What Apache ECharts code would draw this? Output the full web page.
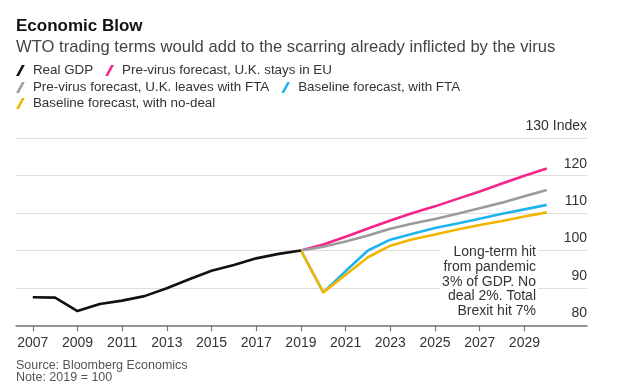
<!DOCTYPE html>
<html>
<head>
<meta charset="utf-8">
<script src="https://cdn.jsdelivr.net/npm/echarts@6/dist/echarts.min.js"></script>
<style>
html,body{margin:0;padding:0;background:#fff;}
#c{width:620px;height:389px;}
</style>
</head>
<body>
<div id="c"></div>
<script>
const gdpYears = [2007,2008,2009,2010,2011,2012,2013,2014,2015,2016,2017,2018,2019];
const realGDP = [87.5,87.4,83.8,85.7,86.6,87.8,89.9,92.3,94.6,96.1,97.9,99.1,100];
const forecastYears = [2019,2020,2021,2022,2023,2024,2025,2026,2027,2028,2029,2030];
const preVirusEU = [100,101.6,103.7,105.9,108.0,110.0,111.8,113.8,115.8,117.9,120.0,121.9];
const preVirusFTA = [100,101.0,102.4,104.0,105.8,107.2,108.4,109.8,111.3,112.8,114.5,116.2];
const baselineFTA = [100,88.8,94.5,100.0,102.9,104.5,106.0,107.2,108.5,109.8,111.0,112.2];
const baselineNoDeal = [100,88.8,93.5,98.2,101.3,103.0,104.3,105.6,106.8,107.9,109.1,110.2];
const xTickLabels = [2007,2009,2011,2013,2015,2017,2019,2021,2023,2025,2027,2029];
const yTicks = [80,90,100,110,120,130];

const names = {
  gdp: 'Real GDP',
  eu: 'Pre-virus forecast, U.K. stays in EU',
  fta: 'Pre-virus forecast, U.K. leaves with FTA',
  bfta: 'Baseline forecast, with FTA',
  nd: 'Baseline forecast, with no-deal'
};
const colors = {gdp:'#111111', eu:'#f5238a', fta:'#9b9b9b', bfta:'#1fb3f0', nd:'#f2b600'};

function pairs(xs, ys){ return xs.map((x,i)=>[x, ys[i]]); }
function line(name, color, data){
  return {name, type:'line', data, showSymbol:false, symbol:'none',
    lineStyle:{color, width:2.6}, itemStyle:{color}, animation:false};
}
const font = '"Liberation Sans", Arial, sans-serif';
const slash = 'path://M0,10 L2.6,10 L8,0 L5.4,0 Z';
function legend(top, data){
  return {top, left:16, data, icon:slash, itemWidth:9, itemHeight:11, itemGap:12,
    padding:0, selectedMode:false,
    textStyle:{fontFamily:font, fontSize:13.4, color:'#333', padding:[0,0,0,3]}};
}

const chart = echarts.init(document.getElementById('c'));
chart.setOption({
  backgroundColor:'#fff',
  animation:false,
  title:[
    {text:'Economic Blow', left:16, top:18, padding:0,
     textStyle:{fontFamily:font, fontSize:17, fontWeight:'bold', color:'#111'}},
    {text:'WTO trading terms would add to the scarring already inflicted by the virus', left:16, top:39, padding:0,
     textStyle:{fontFamily:font, fontSize:16.6, fontWeight:'normal', color:'#444'}},
    {text:'Source: Bloomberg Economics\nNote: 2019 = 100', left:16, top:359, padding:0,
     textStyle:{fontFamily:font, fontSize:12.5, fontWeight:'normal', color:'#555', lineHeight:12.5}}
  ],
  legend:[
    legend(64, [names.gdp, names.eu]),
    legend(81, [names.fta, names.bfta]),
    legend(97, [names.nd])
  ],
  grid:{left:16, right:33, top:138.3, bottom:63.7},
  xAxis:{type:'value', min:2006.25, max:2031.8,
    axisLine:{show:true, lineStyle:{color:'#777', width:1.5}},
    axisTick:{show:true, customValues:xTickLabels, length:6, lineStyle:{color:'#777', width:1.2}},
    axisLabel:{customValues:xTickLabels, fontFamily:font, fontSize:14, color:'#333', margin:11,
      formatter:v=>String(v)},
    splitLine:{show:false}},
  yAxis:{type:'value', position:'right', min:80, max:130, interval:10,
    axisLine:{show:false}, axisTick:{show:false},
    axisLabel:{inside:true, margin:0, fontFamily:font, fontSize:14, color:'#333',
      verticalAlign:'bottom', padding:[0,0,5,0],
      formatter:v=> v===130 ? '130 Index' : String(v)},
    splitLine:{show:true, lineStyle:{color:'#dedede', width:1.2}}},
  graphic:[
    {type:'text', x:538, y:244, z:50,
     style:{text:'Long-term hit\nfrom pandemic\n3% of GDP. No\ndeal 2%. Total\nBrexit hit 7%',
       font:'14px "Liberation Sans", Arial, sans-serif', fill:'#333', align:'right', verticalAlign:'top',
       lineHeight:14.7, backgroundColor:'#fff', padding:[1,2,1,2]}}
  ],
  series:[
    line(names.eu, colors.eu, pairs(forecastYears, preVirusEU)),
    line(names.fta, colors.fta, pairs(forecastYears, preVirusFTA)),
    line(names.bfta, colors.bfta, pairs(forecastYears, baselineFTA)),
    line(names.nd, colors.nd, pairs(forecastYears, baselineNoDeal)),
    line(names.gdp, colors.gdp, pairs(gdpYears, realGDP))
  ]
});
</script>
</body>
</html>
